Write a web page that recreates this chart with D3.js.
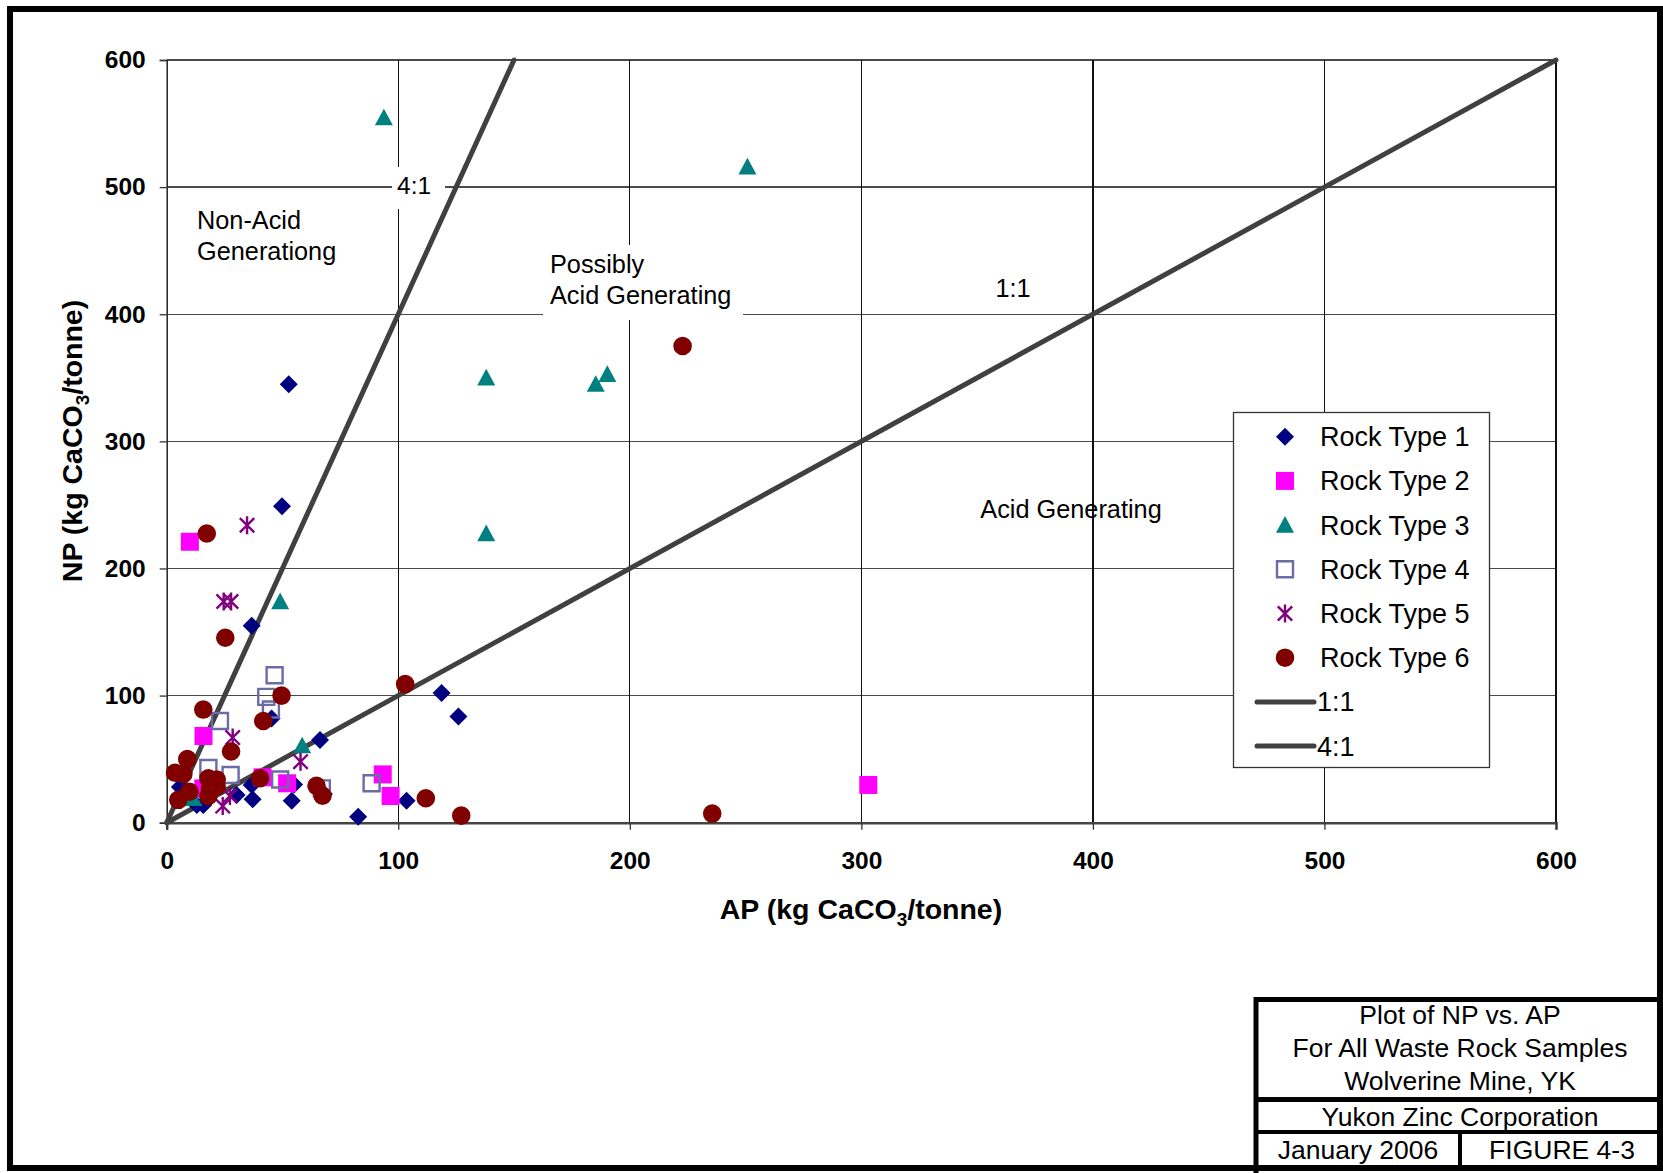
<!DOCTYPE html>
<html>
<head>
<meta charset="utf-8">
<script src="https://cdn.jsdelivr.net/npm/d3@7"></script>
<style>
  html, body { margin: 0; padding: 0; background: #fff; }
  svg { display: block; font-family: "Liberation Sans", Arial, sans-serif; }
</style>
</head>
<body>
<svg id="chart" width="1663" height="1173"></svg>
<script>
// Samples: [AP, NP] in kg CaCO3/tonne
const rockType1 = [[52.7,345],[49.8,249],[36.7,155],[118.7,102],[126,83.5],[66.2,65],[45.3,82],[82.7,4.7],
  [103.6,17.3],[54,17.3],[37.1,18.4],[36.7,29.7],[30.2,21.8],[67.9,22.6],[5.7,28],[13,13.9],[15.8,13.9],[55,30]];
const rockType2 = [[10,221],[15.9,68.2],[41.4,35.7],[52,31],[93.3,38],[96.7,21],[303,29.7],[15.8,27]];
const rockType3 = [[93.8,554.6],[250.8,516],[138,350],[185.3,345],[190.3,352.7],[138,227.5],[49,174],[58.5,60.6],[11.5,19.2]];
const rockType4 = [[23,80],[46.6,116],[43,99],[45,89],[18,43],[27.6,37.5],[49,34],[67,27],[88.5,31]];
const rockType5 = [[34.7,234],[24.6,174],[27.8,174],[28.5,67],[57.8,48],[27.3,21],[24.2,13.1]];
const rockType6 = [[17.3,227.5],[25.3,145.5],[15.8,89],[103,109],[49.6,100],[41.7,80],[27.8,56],[8.9,50],[3.6,39.3],
  [7.2,38.3],[40.3,35],[64.7,29],[67.3,21.2],[18,35],[21.6,34],[18.7,27],[21.6,28.3],[18,21],[9.8,24.4],[5,18],
  [111.9,19.2],[127.2,5.6],[235.6,7.2],[222.8,375]];

// Reference ratio lines NP:AP
const line11 = [[0,0],[600,600]];
const line41 = [[0,0],[150,600]];

const seriesNames = ["Rock Type 1","Rock Type 2","Rock Type 3","Rock Type 4","Rock Type 5","Rock Type 6"];
const tickValues = [0,100,200,300,400,500,600];

const titleLines = ["Plot of NP vs. AP","For All Waste Rock Samples","Wolverine Mine, YK"];
const company = "Yukon Zinc Corporation";
const dateText = "January 2006";
const figureText = "FIGURE 4-3";

const svg = d3.select("#chart");

const x = d3.scaleLinear().domain([0,600]).range([166.7,1556]);
const y = d3.scaleLinear().domain([0,600]).range([822.7,60]);

// Outer frame
svg.append("rect").attr("x",10).attr("y",9).attr("width",1650).attr("height",1159)
  .attr("fill","none").attr("stroke","#000").attr("stroke-width",6);

// Gridlines
const grid = svg.append("g").attr("shape-rendering","crispEdges");
grid.selectAll("line.h").data(tickValues.slice(1)).join("line")
  .attr("x1",x(0)).attr("x2",x(600)).attr("y1",d=>y(d)).attr("y2",d=>y(d))
  .attr("stroke","#4a4a4a").attr("stroke-width",1.3);
grid.selectAll("line.v").data(tickValues.slice(1)).join("line")
  .attr("x1",d=>x(d)).attr("x2",d=>x(d)).attr("y1",y(0)).attr("y2",y(600))
  .attr("stroke","#111").attr("stroke-width",1.2);

// Axes
const xAxis = svg.append("g").attr("transform",`translate(0,${y(0)})`)
  .call(d3.axisBottom(x).tickValues(tickValues).tickSize(7).tickPadding(22).tickFormat(d3.format("d")));
const yAxis = svg.append("g").attr("transform",`translate(${x(0)},0)`)
  .call(d3.axisLeft(y).tickValues(tickValues).tickSize(7).tickPadding(14).tickFormat(d3.format("d")));
[xAxis,yAxis].forEach(a=>{
  a.selectAll("text").attr("font-size",24.5).attr("font-weight","bold").attr("fill","#000")
    .attr("font-family","'Liberation Sans', Arial, sans-serif");
  a.selectAll(".tick line").attr("stroke","#333").attr("stroke-width",1.3);
});
xAxis.select(".domain").attr("stroke","#444").attr("stroke-width",2.5);
yAxis.select(".domain").attr("stroke","#222").attr("stroke-width",1.5);

// Axis titles
const xt = svg.append("text").attr("x",861).attr("y",919).attr("text-anchor","middle")
  .attr("font-size",28.5).attr("font-weight","bold");
xt.append("tspan").text("AP (kg CaCO");
xt.append("tspan").attr("font-size",19).attr("dy",7).text("3");
xt.append("tspan").attr("dy",-7).text("/tonne)");

const yt = svg.append("text").attr("transform","translate(82,441) rotate(-90)").attr("text-anchor","middle")
  .attr("font-size",28.5).attr("font-weight","bold");
yt.append("tspan").text("NP (kg CaCO");
yt.append("tspan").attr("font-size",19).attr("dy",7).text("3");
yt.append("tspan").attr("dy",-7).text("/tonne)");

// Annotation backgrounds covering gridlines
svg.append("rect").attr("x",392).attr("y",167).attr("width",53).attr("height",42).attr("fill","#fff");
svg.append("rect").attr("x",543).attr("y",245).attr("width",200).attr("height",75).attr("fill","#fff");

// Ratio lines
const lineGen = d3.line().x(d=>x(d[0])).y(d=>y(d[1]));
[line11,line41].forEach(l=>{
  svg.append("path").attr("d",lineGen(l)).attr("fill","none")
    .attr("stroke","#404040").attr("stroke-width",5).attr("stroke-linecap","round");
});

// Annotations
function label(lines,xp,yp,anchor,size){
  const t = svg.append("text").attr("x",xp).attr("y",yp).attr("text-anchor",anchor||"start")
    .attr("font-size",size||25.3).attr("fill","#000");
  lines.forEach((s,i)=>t.append("tspan").attr("x",xp).attr("dy",i?31:0).text(s));
}
label(["4:1"],397,194,"start",24.5);
label(["Non-Acid","Generationg"],197,229,"start",25.3);
label(["Possibly","Acid Generating"],550,273,"start",25.3);
label(["1:1"],1013,297,"middle",25.3);
label(["Acid Generating"],1071,518,"middle",25.3);

// Marker symbols
const sz = 9;
const shapes = {
  diamond: ()=>`M0,${-sz}L${sz},0L0,${sz}L${-sz},0Z`,
  square: ()=>`M${-sz},${-sz}H${sz}V${sz}H${-sz}Z`,
  triangle: ()=>`M0,${-sz}L${sz},${sz*0.85}L${-sz},${sz*0.85}Z`,
  osquare: ()=>`M${-8},${-8}H8V8H-8Z`,
  star: ()=>`M0,${-sz}V${sz}M${-sz*0.8},${-sz*0.8}L${sz*0.8},${sz*0.8}M${sz*0.8},${-sz*0.8}L${-sz*0.8},${sz*0.8}`,
  circle: ()=>d3.symbol(d3.symbolCircle, Math.PI*9.3*9.3)()
};
const styles = [
  {shape:"diamond", fill:"#000080", stroke:"none", sw:0},
  {shape:"square", fill:"#FF00FF", stroke:"none", sw:0},
  {shape:"triangle", fill:"#008080", stroke:"none", sw:0},
  {shape:"osquare", fill:"none", stroke:"#6B6BA6", sw:2.4},
  {shape:"star", fill:"none", stroke:"#800080", sw:2.4},
  {shape:"circle", fill:"#800000", stroke:"none", sw:0}
];
const allSeries = [rockType1,rockType2,rockType3,rockType4,rockType5,rockType6];

allSeries.forEach((data,i)=>{
  const st = styles[i];
  svg.append("g").selectAll("path").data(data).join("path")
    .attr("transform",d=>`translate(${x(d[0])},${y(d[1])})`)
    .attr("d",shapes[st.shape]())
    .attr("fill",st.fill).attr("stroke",st.stroke).attr("stroke-width",st.sw);
});

// Legend
const lg = svg.append("g");
lg.append("rect").attr("x",1233.5).attr("y",412.5).attr("width",256).attr("height",355)
  .attr("fill","#fff").attr("stroke","#333").attr("stroke-width",1.3);
const rowY = i => 436.7 + i*44.2;
seriesNames.forEach((name,i)=>{
  const st = styles[i];
  lg.append("path").attr("transform",`translate(1285,${rowY(i)})`).attr("d",shapes[st.shape]())
    .attr("fill",st.fill).attr("stroke",st.stroke).attr("stroke-width",st.sw);
  lg.append("text").attr("x",1320).attr("y",rowY(i)+9.5).attr("font-size",27).text(name);
});
["1:1","4:1"].forEach((name,j)=>{
  const yy = rowY(6+j);
  lg.append("line").attr("x1",1257).attr("x2",1314).attr("y1",yy).attr("y2",yy)
    .attr("stroke","#404040").attr("stroke-width",5).attr("stroke-linecap","round");
  lg.append("text").attr("x",1317).attr("y",yy+9.5).attr("font-size",27).text(name);
});

// Title block
const tb = svg.append("g");
tb.append("rect").attr("x",1256).attr("y",999.5).attr("width",410).attr("height",180)
  .attr("fill","#fff").attr("stroke","#000").attr("stroke-width",5);
tb.append("line").attr("x1",1256).attr("x2",1663).attr("y1",1099.5).attr("y2",1099.5).attr("stroke","#000").attr("stroke-width",5);
tb.append("line").attr("x1",1256).attr("x2",1663).attr("y1",1132).attr("y2",1132).attr("stroke","#000").attr("stroke-width",4);
tb.append("line").attr("x1",1460).attr("x2",1460).attr("y1",1132).attr("y2",1168).attr("stroke","#000").attr("stroke-width",4);
titleLines.forEach((s,i)=>{
  tb.append("text").attr("x",1460).attr("y",1024+i*33).attr("text-anchor","middle").attr("font-size",26.5).text(s);
});
tb.append("text").attr("x",1460).attr("y",1126).attr("text-anchor","middle").attr("font-size",26.5).text(company);
tb.append("text").attr("x",1358).attr("y",1159).attr("text-anchor","middle").attr("font-size",26.5).text(dateText);
tb.append("text").attr("x",1562).attr("y",1159).attr("text-anchor","middle").attr("font-size",26.5).text(figureText);
// Re-draw outer frame over the title block edges
svg.append("rect").attr("x",10).attr("y",9).attr("width",1650).attr("height",1159)
  .attr("fill","none").attr("stroke","#000").attr("stroke-width",6);
</script>
</body>
</html>
